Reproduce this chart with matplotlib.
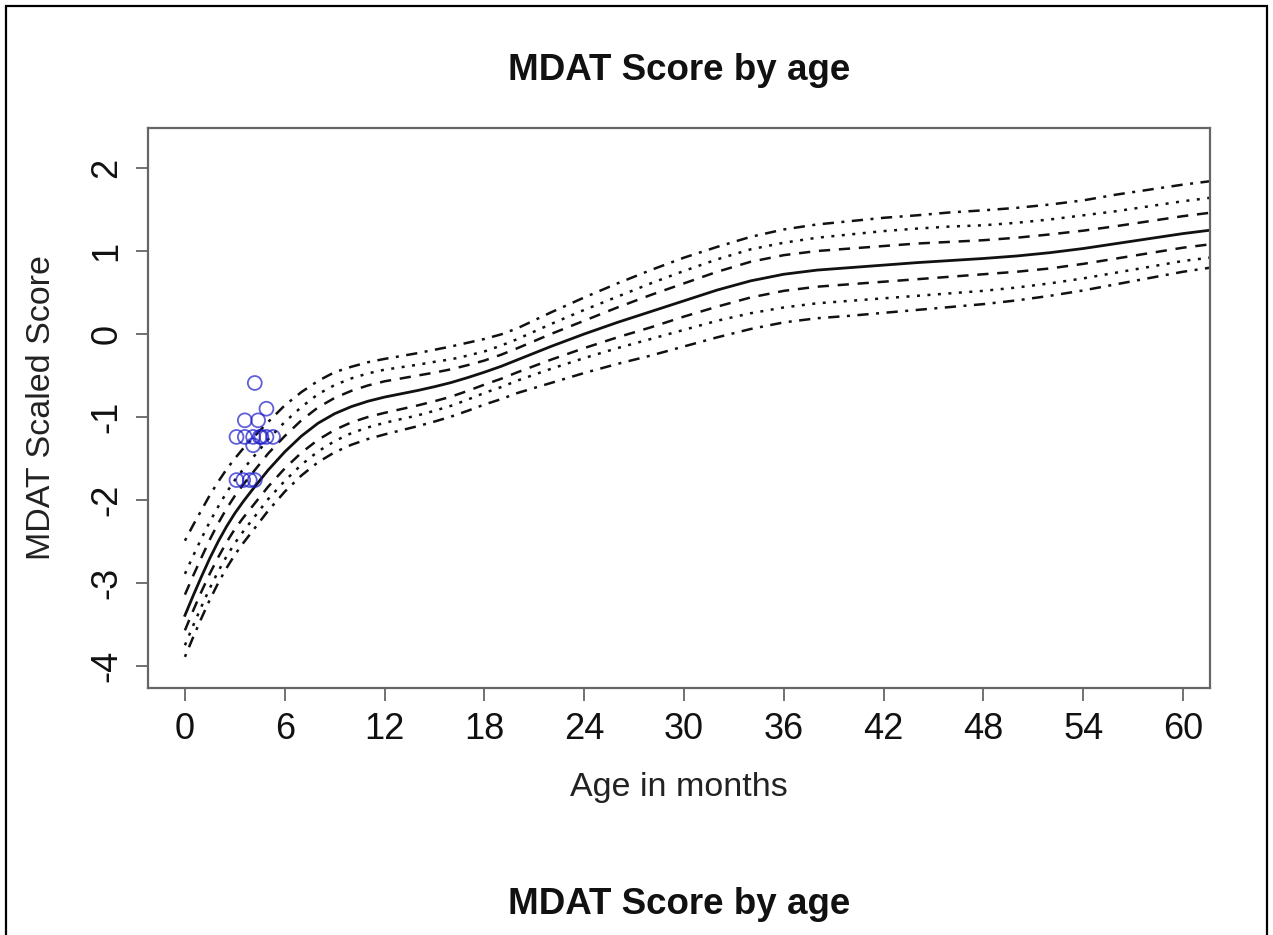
import matplotlib
matplotlib.use("Agg")
import matplotlib.pyplot as plt
from matplotlib.patches import Rectangle

plt.rcParams['font.family'] = ['Liberation Sans', 'DejaVu Sans']

# ---- data ----
ages = [0, 0.5, 1, 1.5, 2, 2.5, 3, 3.5, 4, 5, 6, 7, 8, 9, 10, 11, 12, 13, 14, 15, 16, 17,
        18, 19, 20, 22, 24, 26, 28, 30, 32, 34, 36, 38, 40, 42, 44, 46, 48, 50, 52, 54,
        56, 58, 60, 62]
median = [-3.39, -3.15, -2.92, -2.70, -2.50, -2.32, -2.16, -2.02, -1.89,
          -1.64, -1.42, -1.23, -1.075, -0.96, -0.875, -0.81, -0.76, -0.72, -0.68, -0.635,
          -0.585, -0.525, -0.46, -0.39, -0.31,
          -0.15, 0.00, 0.14, 0.27, 0.40, 0.53, 0.64, 0.72, 0.77, 0.80, 0.83, 0.86, 0.885,
          0.91, 0.94, 0.98, 1.03, 1.09, 1.15, 1.21, 1.26]
upper_dashdot = [-2.49, -2.30, -2.12, -1.94, -1.78, -1.63, -1.50, -1.38, -1.27,
                 -1.06, -0.86, -0.70, -0.565, -0.46, -0.395, -0.34, -0.30, -0.265, -0.23,
                 -0.19, -0.15, -0.105, -0.06, -0.005, 0.07,
                 0.26, 0.44, 0.61, 0.77, 0.92, 1.05, 1.17, 1.26, 1.32, 1.36, 1.40, 1.43,
                 1.465, 1.49, 1.52, 1.56, 1.61, 1.68, 1.74, 1.80, 1.85]
upper_dotted = [-2.89, -2.67, -2.46, -2.26, -2.08, -1.91, -1.76, -1.63, -1.51,
                -1.27, -1.06, -0.88, -0.725, -0.615, -0.535, -0.475, -0.43, -0.40, -0.37,
                -0.335, -0.305, -0.26, -0.21, -0.14, -0.06,
                0.12, 0.29, 0.45, 0.61, 0.76, 0.90, 1.02, 1.10, 1.16, 1.20, 1.24, 1.27,
                1.295, 1.31, 1.34, 1.38, 1.43, 1.48, 1.54, 1.60, 1.65]
upper_dashed = [-3.14, -2.91, -2.69, -2.475, -2.28, -2.105, -1.95, -1.815, -1.69,
                -1.44, -1.23, -1.04, -0.885, -0.77, -0.685, -0.62, -0.57, -0.535, -0.50,
                -0.465, -0.425, -0.375, -0.32, -0.25, -0.17,
                0.00, 0.16, 0.32, 0.47, 0.61, 0.75, 0.87, 0.95, 1.00, 1.03, 1.06, 1.09,
                1.11, 1.13, 1.16, 1.20, 1.245, 1.30, 1.36, 1.42, 1.47]
lower_dashed = [-3.57, -3.33, -3.10, -2.885, -2.69, -2.51, -2.35, -2.215, -2.09,
                -1.84, -1.62, -1.43, -1.275, -1.155, -1.065, -1.00, -0.95, -0.905, -0.86,
                -0.81, -0.755, -0.685, -0.61, -0.54, -0.46,
                -0.31, -0.17, -0.04, 0.08, 0.21, 0.33, 0.44, 0.52, 0.57, 0.60, 0.63, 0.66,
                0.69, 0.72, 0.75, 0.79, 0.845, 0.91, 0.975, 1.04, 1.09]
lower_dotted = [-3.75, -3.51, -3.28, -3.06, -2.86, -2.68, -2.52, -2.38, -2.25,
                -1.99, -1.77, -1.575, -1.415, -1.29, -1.195, -1.125, -1.07, -1.025, -0.98,
                -0.925, -0.865, -0.79, -0.71, -0.64, -0.56,
                -0.42, -0.29, -0.17, -0.06, 0.05, 0.16, 0.25, 0.32, 0.37, 0.40, 0.43, 0.46,
                0.49, 0.52, 0.56, 0.61, 0.67, 0.74, 0.81, 0.88, 0.93]
lower_dashdot = [-3.89, -3.65, -3.42, -3.20, -3.00, -2.82, -2.66, -2.52, -2.39,
                 -2.13, -1.90, -1.705, -1.545, -1.425, -1.335, -1.265, -1.21, -1.16, -1.11,
                 -1.055, -0.995, -0.925, -0.85, -0.785, -0.71,
                 -0.59, -0.47, -0.36, -0.26, -0.15, -0.04, 0.06, 0.14, 0.19, 0.22, 0.255,
                 0.29, 0.325, 0.36, 0.405, 0.46, 0.525, 0.60, 0.675, 0.75, 0.81]

pt_age = [4.2, 4.9, 3.6, 4.4, 3.1, 3.6, 4.1, 4.5, 4.9, 5.3, 4.1, 4.6, 3.1, 3.5, 3.9, 4.2]
pt_score = [-0.59, -0.90, -1.04, -1.04, -1.24, -1.24, -1.24, -1.24, -1.24, -1.24, -1.34,
            -1.24, -1.76, -1.76, -1.76, -1.76]

x_ticks = [0, 6, 12, 18, 24, 30, 36, 42, 48, 54, 60]
y_ticks = [-4, -3, -2, -1, 0, 1, 2]
title = "MDAT Score by age"

# ---- figure ----
W, H = 1273, 935
fig = plt.figure(figsize=(W / 100, H / 100), dpi=100)
ax = fig.add_axes([148 / W, 1 - 688 / H, (1210 - 148) / W, (688 - 128) / H])

lw = 1.8
dash = (0, (4.5, 3.5))
dot = (0, (1.2, 3.0))
dashdot = (0, (1.2, 3.0, 4.5, 3.0))
col = '#111111'
ax.plot(ages, upper_dashdot, color=col, lw=lw, ls=dashdot)
ax.plot(ages, upper_dotted, color=col, lw=lw, ls=dot)
ax.plot(ages, upper_dashed, color=col, lw=lw, ls=dash)
ax.plot(ages, median, color=col, lw=2.0, ls='-')
ax.plot(ages, lower_dashed, color=col, lw=lw, ls=dash)
ax.plot(ages, lower_dotted, color=col, lw=lw, ls=dot)
ax.plot(ages, lower_dashdot, color=col, lw=lw, ls=dashdot)

ax.scatter(pt_age, pt_score, s=100, facecolors='none', edgecolors='#1c1cc8',
           linewidths=1.3, alpha=0.7, zorder=5)

ax.set_xlim(-2.22, 61.62)
ax.set_ylim(-4.265, 2.482)
ax.set_xticks(x_ticks)
ax.set_xticklabels([str(v) for v in x_ticks])
ax.set_yticks(y_ticks)
ax.set_yticklabels([str(v) for v in y_ticks], rotation=90, va='center')

spine_col = '#666666'
for s in ax.spines.values():
    s.set_color(spine_col)
    s.set_linewidth(1.6)
ax.tick_params(axis='both', direction='out', length=9, width=1.3, color=spine_col,
               labelsize=26, labelcolor='#111111')
ax.tick_params(axis='x', pad=8)
ax.tick_params(axis='y', pad=8)

ax.set_xlabel("Age in months", fontsize=24.5, labelpad=18, color='#222222')
ax.set_ylabel("MDAT Scaled Score", fontsize=24.5, labelpad=23, color='#222222')

fig.text(679 / W, 1 - 71 / H, title, ha='center', va='center',
         fontsize=26.5, fontweight='bold', color='#111111')
fig.text(679 / W, 1 - 904 / H, title, ha='center', va='center',
         fontsize=26.5, fontweight='bold', color='#111111')

# outer frame
fig.add_artist(Rectangle((6 / W, -0.05), (1267 - 6) / W, 1.05 - 6 / H,
                         transform=fig.transFigure, fill=False,
                         edgecolor='black', linewidth=1.6, clip_on=False))

fig.savefig("out.png", dpi=100, facecolor='white')
